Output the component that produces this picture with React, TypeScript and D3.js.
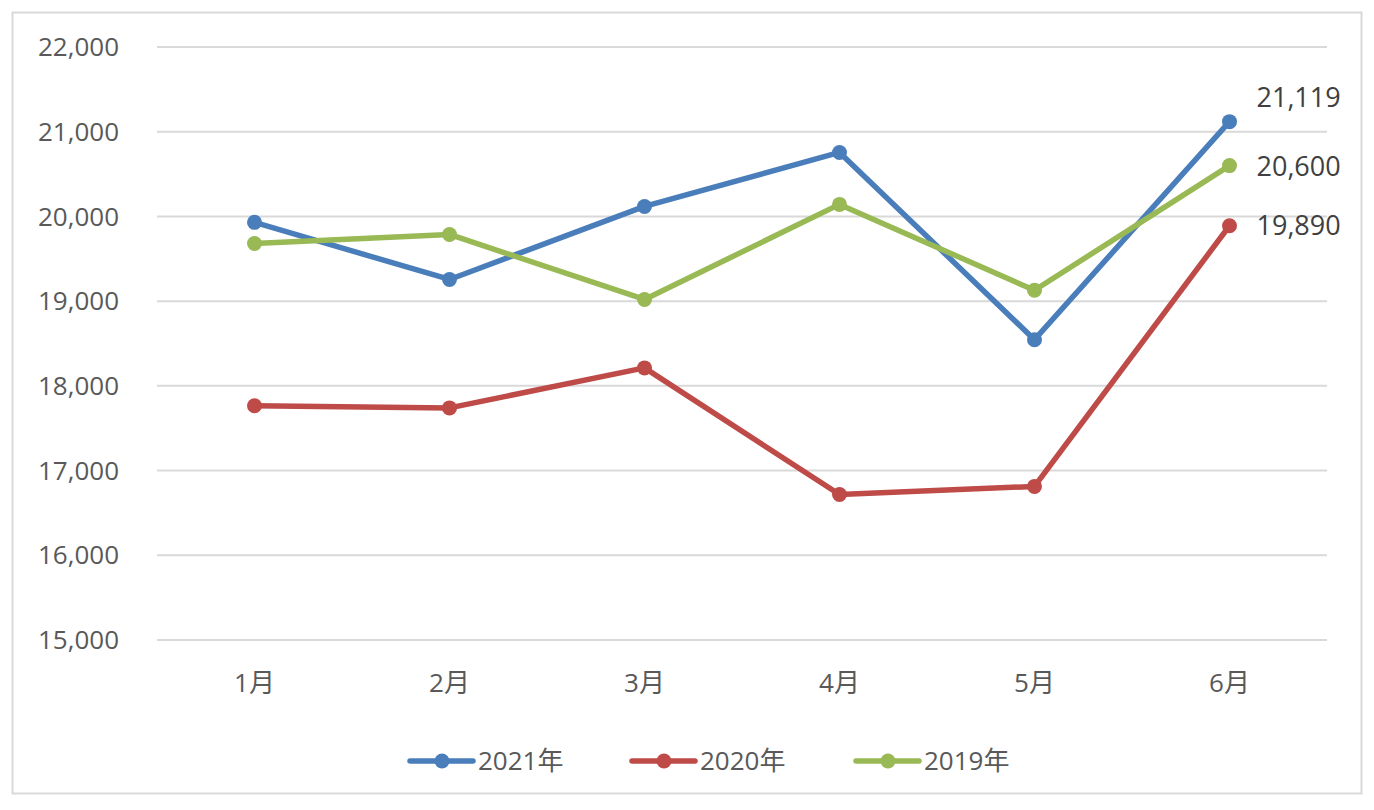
import React from "react";
import * as d3 from "d3";

const months = ["1月", "2月", "3月", "4月", "5月", "6月"];
const series2021 = [19930, 19256, 20118, 20755, 18545, 21119];
const series2020 = [17765, 17740, 18212, 16718, 16813, 19890];
const series2019 = [19681, 19787, 19020, 20142, 19128, 20600];
const seriesNames = ["2021年", "2020年", "2019年"];
const seriesColors = ["#4a7ebb", "#be4b48", "#98b954"];
const yTicks = [15000, 16000, 17000, 18000, 19000, 20000, 21000, 22000];

const W = 1374;
const H = 810;
const FONT = "'Open Sans', 'Noto Sans CJK JP', sans-serif";

export default function App() {
  const allSeries = [series2021, series2020, series2019];
  const x = d3.scaleBand<string>().domain(months).range([157, 1327]);
  const y = d3.scaleLinear().domain([15000, 22000]).range([640, 47]);
  const cx = (m: string) => (x(m) as number) + x.bandwidth() / 2;
  const line = d3
    .line<number>()
    .x((_, i) => cx(months[i]))
    .y((d) => y(d));
  const fmt = d3.format(",");
  const labelDy = [-24, 0, 1];

  const legendX = [410, 632, 856];

  return (
    <svg
      width={W}
      height={H}
      style={{ position: "absolute", left: 0, top: 0, background: "#fff" }}
      fontFamily={FONT}
    >
      <rect x={12.5} y={12.5} width={1349} height={781} fill="#fff" stroke="#d9d9d9" strokeWidth={2} />
      {yTicks.map((t) => (
        <g key={t}>
          <line x1={157} x2={1327} y1={y(t)} y2={y(t)} stroke="#d9d9d9" strokeWidth={2} />
          <text x={119} y={y(t)} dy="0.35em" textAnchor="end" fontSize={26} fill="#595959">
            {fmt(t)}
          </text>
        </g>
      ))}
      {months.map((m) => (
        <text key={m} x={cx(m)} y={692} textAnchor="middle" fontSize={26} fill="#595959">
          {m}
        </text>
      ))}
      {allSeries.map((s, si) => (
        <g key={si}>
          <path d={line(s) as string} fill="none" stroke={seriesColors[si]} strokeWidth={5.5} strokeLinejoin="round" />
          {s.map((v, i) => (
            <circle key={i} cx={cx(months[i])} cy={y(v)} r={7.5} fill={seriesColors[si]} />
          ))}
        </g>
      ))}
      {allSeries.map((s, si) => {
        const last = s[s.length - 1];
        return (
          <text
            key={"l" + si}
            x={cx(months[5]) + 27}
            y={y(last) + labelDy[si]}
            dy="0.35em"
            fontSize={27}
            fill="#404040"
          >
            {fmt(last)}
          </text>
        );
      })}
      {seriesNames.map((n, i) => (
        <g key={n}>
          <line x1={legendX[i]} x2={legendX[i] + 63} y1={761} y2={761} stroke={seriesColors[i]} strokeWidth={5.5} strokeLinecap="round" />
          <circle cx={legendX[i] + 32} cy={761} r={7.5} fill={seriesColors[i]} />
          <text x={legendX[i] + 68} y={761} dy="0.35em" fontSize={26} fill="#595959">
            {n}
          </text>
        </g>
      ))}
    </svg>
  );
}
